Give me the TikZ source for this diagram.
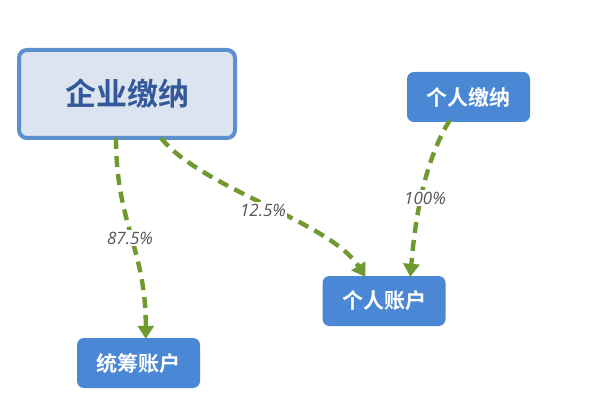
\documentclass[tikz,border=0pt]{standalone}
\usepackage{fontspec}
\setmainfont{Open Sans}
\newfontfamily\cjk{Noto Sans CJK SC}[BoldFont={* Bold}]
\usetikzlibrary{arrows.meta,calc}
\definecolor{boxblue}{HTML}{4A88D5}
\definecolor{lightfill}{HTML}{DCE4F0}
\definecolor{borderblue}{HTML}{5B8FD0}
\definecolor{darkblue}{HTML}{34599A}
\definecolor{arrowgreen}{HTML}{6E9A2F}
\definecolor{labelgray}{HTML}{555555}
\tikzset{
  mainbox/.style={draw=borderblue, line width=4pt, fill=lightfill, rounded corners=8pt,
    minimum width=216pt, minimum height=88pt, inner sep=0pt,
    font=\cjk\bfseries\fontsize{31}{31}\selectfont, text=darkblue},
  bluebox/.style={fill=boxblue, rounded corners=7pt, minimum width=123pt, minimum height=50pt,
    inner sep=0pt, font=\cjk\bfseries\fontsize{21}{21}\selectfont, text=white},
  flow/.style={draw=arrowgreen, line width=4.4pt, dash pattern=on 11pt off 7pt,
    -{Triangle[length=13pt,width=16pt]}},
  pct/.style={font=\itshape\fontsize{17}{17}\selectfont, text=labelgray, fill=white, inner sep=1.5pt}
}
\begin{document}
\begin{tikzpicture}[x=1pt,y=-1pt]
\useasboundingbox[fill=white] (0,0) rectangle (612,403);
\node[mainbox] (ent) at (127,94) {企业缴纳};
\node[bluebox] (per) at (468.5,97) {个人缴纳};
\node[bluebox] (acc) at (384,301) {个人账户};
\node[bluebox] (pool) at (138.5,363) {统筹账户};

\draw[flow] ($(ent.south west)+(99,-2)$) .. controls +(0,85) and +(0,-90) .. ($(pool.north west)+(69,1)$);
\draw[flow] ($(ent.south west)+(144,-2)$) .. controls +(40,50) and +(-35,-55) .. ($(acc.north west)+(43,1)$);
\draw[flow] ($(per.south west)+(43,-2)$) .. controls +(-25,40) and +(5,-60) .. ($(acc.north west)+(88,1)$);

\node[pct] (l1) at (130,238) {87.5\%};
\node[pct] (l2) at (263,210) {12.5\%};
\node[pct] (l3) at (425,198) {100\%};
\end{tikzpicture}
\end{document}
